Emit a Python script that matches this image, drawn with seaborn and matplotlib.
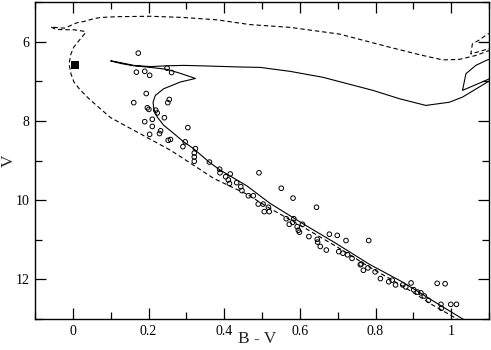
import matplotlib
matplotlib.use("Agg")
import matplotlib.pyplot as plt
import seaborn as sns
import pandas as pd
from matplotlib.ticker import MultipleLocator, FixedLocator, FixedFormatter

# ---------------- data ----------------
# older isochrone (solid): main sequence -> hook -> subgiant -> RGB
solid_bv = [1.045, 1.029, 0.960, 0.872, 0.784, 0.697, 0.609, 0.521, 0.460, 0.389, 0.359,
            0.319, 0.293, 0.267, 0.240, 0.223, 0.214, 0.212, 0.218, 0.240, 0.284, 0.315,
            0.324, 0.315, 0.284, 0.249, 0.205, 0.161, 0.126, 0.100, 0.126, 0.161, 0.205,
            0.249, 0.293, 0.337, 0.442, 0.495, 0.574, 0.661, 0.793, 0.863, 0.933, 0.995,
            1.030, 1.096, 1.130]
solid_v = [13.08, 12.99, 12.59, 12.07, 11.62, 11.10, 10.60, 10.08, 9.64, 9.24, 9.03,
           8.70, 8.53, 8.32, 8.11, 7.90, 7.69, 7.53, 7.36, 7.19, 7.02, 6.95,
           6.93, 6.90, 6.80, 6.70, 6.65, 6.61, 6.55, 6.485, 6.53, 6.60, 6.63,
           6.61, 6.60, 6.61, 6.64, 6.65, 6.75, 6.90, 7.23, 7.44, 7.61, 7.53,
           7.40, 7.02, 6.84]
solid_loop_bv = [1.130, 1.096, 1.065, 1.039, 1.030, 1.096, 1.130]
solid_loop_v = [6.37, 6.46, 6.60, 6.81, 7.23, 6.96, 6.82]

# younger isochrone (dashed)
dash_bv = [1.025, 0.950, 0.872, 0.784, 0.700, 0.609, 0.521, 0.460, 0.372, 0.284, 0.258,
           0.179, 0.100, 0.047, 0.034, 0.017, 0.003, -0.005, -0.010, -0.005, 0.003,
           0.021, 0.034, 0.030, 0.003, -0.023, -0.045, -0.058, -0.039, -0.021, -0.005,
           0.012, 0.030, 0.056, 0.074, 0.118, 0.205, 0.292, 0.381, 0.468, 0.574, 0.705,
           0.837, 0.916, 0.977, 1.021, 1.065, 1.096, 1.130]
dash_v = [13.05, 12.64, 12.17, 11.69, 11.19, 10.68, 10.21, 9.85, 9.45, 8.90, 8.74,
          8.33, 7.92, 7.48, 7.36, 7.19, 7.02, 6.81, 6.56, 6.31, 6.13,
          5.92, 5.77, 5.74, 5.70, 5.70, 5.69, 5.63, 5.65, 5.66, 5.59,
          5.52, 5.49, 5.42, 5.39, 5.37, 5.36, 5.39, 5.45, 5.57, 5.64, 5.81,
          6.14, 6.33, 6.46, 6.45, 6.35, 6.24, 6.14]
dash_loop_bv = [1.130, 1.096, 1.074, 1.056, 1.052, 1.096, 1.130]
dash_loop_v = [5.73, 5.81, 5.96, 6.06, 6.31, 6.19, 6.11]
dash_seg_bv = [1.074, 1.130]
dash_seg_v = [6.02, 6.02]

# observed stars (open circles)
star_bv = [0.173, 0.249, 0.168, 0.190, 0.203, 0.261, 0.194, 0.255, 0.251, 0.161,
           0.197, 0.201, 0.219, 0.223, 0.242, 0.210, 0.190, 0.210, 0.304, 0.232,
           0.229, 0.203, 0.258, 0.252, 0.297, 0.291, 0.324, 0.321, 0.321, 0.321,
           0.361, 0.388, 0.389, 0.416, 0.404, 0.411, 0.414, 0.433, 0.444, 0.492,
           0.447, 0.464, 0.477, 0.490, 0.503, 0.506, 0.519, 0.517, 0.551, 0.582,
           0.644, 0.564, 0.584, 0.581, 0.593, 0.596, 0.607, 0.572, 0.624, 0.646,
           0.647, 0.654, 0.670, 0.678, 0.699, 0.722, 0.703, 0.714, 0.726, 0.738,
           0.760, 0.762, 0.768, 0.780, 0.782, 0.799, 0.813, 0.835, 0.844, 0.853,
           0.872, 0.880, 0.894, 0.901, 0.911, 0.920, 0.929, 0.940, 0.963, 0.984,
           0.973, 0.974, 0.999, 1.014, 0.599]
star_v = [6.29, 6.67, 6.77, 6.75, 6.85, 6.78, 7.31, 7.46, 7.54, 7.54,
          7.67, 7.71, 7.73, 7.80, 7.92, 7.96, 8.02, 8.14, 8.17, 8.25,
          8.32, 8.34, 8.47, 8.49, 8.53, 8.65, 8.70, 8.81, 8.91, 9.02,
          9.04, 9.22, 9.31, 9.34, 9.41, 9.49, 9.58, 9.56, 9.66, 9.31,
          9.76, 9.89, 9.89, 10.10, 10.10, 10.29, 10.29, 10.18, 9.70, 9.95,
          10.18, 10.47, 10.47, 10.56, 10.67, 10.76, 10.61, 10.61, 10.92, 10.99,
          11.06, 11.17, 11.26, 10.86, 10.89, 11.02, 11.30, 11.34, 11.38, 11.47,
          11.63, 11.61, 11.77, 11.71, 11.02, 11.81, 11.98, 12.06, 12.02, 12.14,
          12.14, 12.19, 12.09, 12.26, 12.32, 12.34, 12.42, 12.53, 12.10, 12.11,
          12.63, 12.73, 12.63, 12.63, 10.81]

# reference point (filled square)
ref_bv = [0.007]
ref_v = [6.60]

xtick_vals = [0, 0.2, 0.4, 0.6, 0.8, 1.0]
xtick_labels = ["0", "0.2", "0.4", "0.6", "0.8", "1"]
ytick_vals = [6, 8, 10, 12]
ytick_labels = ["6", "8", "10", "12"]

# ---------------- plot ----------------
sns.set_theme(style="ticks")
plt.rcParams["font.family"] = ["Liberation Serif", "DejaVu Serif"]
plt.rcParams["xtick.direction"] = "in"
plt.rcParams["ytick.direction"] = "in"

fig = plt.figure(figsize=(4.91, 3.5), dpi=100)
ax = fig.add_axes([35 / 491, 1 - 319 / 350, (489 - 35) / 491, (319 - 2) / 350])

lw = 0.8
dash_style = (0, (4.0, 2.6))

def draw(bv, v, ls):
    df = pd.DataFrame({"bv": bv, "v": v})
    sns.lineplot(data=df, x="bv", y="v", sort=False, estimator=None, ax=ax,
                 color="black", linewidth=lw, linestyle=ls)

draw(solid_bv, solid_v, "-")
draw(solid_loop_bv, solid_loop_v, "-")
draw(dash_bv, dash_v, dash_style)
draw(dash_loop_bv, dash_loop_v, dash_style)
draw(dash_seg_bv, dash_seg_v, dash_style)

stars = pd.DataFrame({"bv": star_bv, "v": star_v})
sns.scatterplot(data=stars, x="bv", y="v", ax=ax, marker="o", s=11,
                facecolor="none", edgecolor="black", linewidth=0.7, zorder=3)

ref = pd.DataFrame({"bv": ref_bv, "v": ref_v})
sns.scatterplot(data=ref, x="bv", y="v", ax=ax, marker="s", s=38,
                color="black", edgecolor="black", linewidth=0, zorder=4)

ax.set_xlim(-0.1, 1.1)
ax.set_ylim(13, 5)

ax.xaxis.set_major_locator(FixedLocator(xtick_vals))
ax.xaxis.set_major_formatter(FixedFormatter(xtick_labels))
ax.yaxis.set_major_locator(FixedLocator(ytick_vals))
ax.yaxis.set_major_formatter(FixedFormatter(ytick_labels))
ax.xaxis.set_minor_locator(MultipleLocator(0.1))
ax.yaxis.set_minor_locator(MultipleLocator(1))

ax.tick_params(which="both", direction="in", top=True, right=True,
               colors="black", labelsize=10)
ax.tick_params(which="major", length=8, width=0.9, pad=4)
ax.tick_params(which="minor", length=5, width=0.9)
for sp in ax.spines.values():
    sp.set_visible(True)
    sp.set_linewidth(1.0)
    sp.set_color("black")

ax.set_xlabel("B - V", fontsize=12.5)
ax.set_ylabel("V", fontsize=12.5, va="center")
ax.xaxis.set_label_coords(0.49, -0.038)
ax.yaxis.set_label_coords(-0.058, 0.50)
ax.grid(False)

fig.savefig("out.png", dpi=100)
